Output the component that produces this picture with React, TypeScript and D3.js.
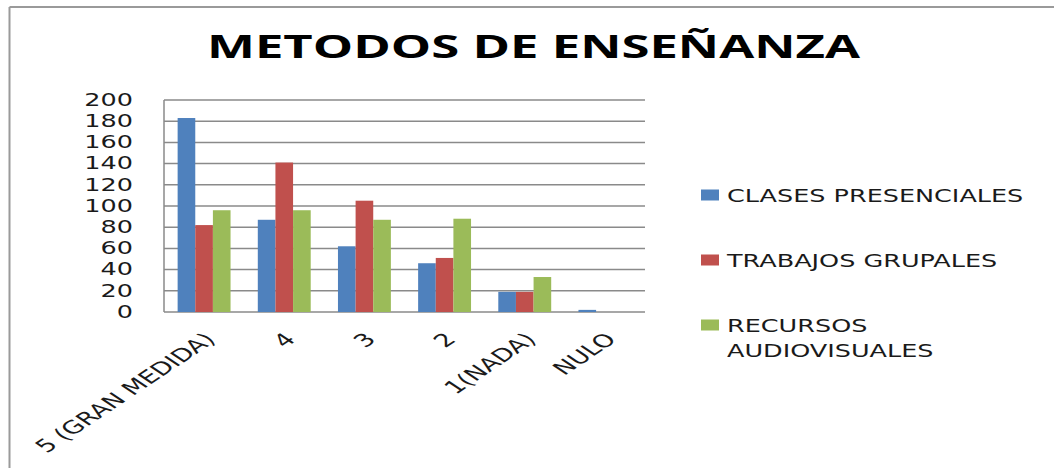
import React from "react";
import * as d3 from "d3";

const categories = ["5 (GRAN MEDIDA)", "4", "3", "2", "1(NADA)", "NULO"];
const seriesNames = ["CLASES PRESENCIALES", "TRABAJOS GRUPALES", "RECURSOS AUDIOVISUALES"];
const clasesPresenciales = [183, 87, 62, 46, 19, 2];
const trabajosGrupales = [82, 141, 105, 51, 19, 0];
const recursosAudiovisuales = [96, 96, 87, 88, 33, 0];
const yTicks = [0, 20, 40, 60, 80, 100, 120, 140, 160, 180, 200];
const colors = ["#4F81BD", "#C0504D", "#9BBB59"];
const legendLines = [["CLASES PRESENCIALES"], ["TRABAJOS GRUPALES"], ["RECURSOS", "AUDIOVISUALES"]];

const W = 1054;
const H = 468;
const plot = { left: 164, right: 645, top: 100, bottom: 312 };
const S = 1.5; // horizontal text stretch
const FONT = "'DejaVu Sans', Verdana, sans-serif";
const TXT = "#1a1a1a";

export default function App() {
  const series = [clasesPresenciales, trabajosGrupales, recursosAudiovisuales];
  const x0 = d3
    .scaleBand<string>()
    .domain(categories)
    .range([plot.left, plot.right])
    .paddingInner(0.34)
    .paddingOuter(0.17);
  const x1 = d3
    .scaleBand<number>()
    .domain(d3.range(series.length))
    .range([0, x0.bandwidth()]);
  const y = d3.scaleLinear().domain([0, 200]).range([plot.bottom, plot.top]);

  return (
    <svg
      width={W}
      height={H}
      style={{ position: "absolute", left: 0, top: 0, background: "#fff" }}
    >
      <rect x={0} y={0} width={W} height={H} fill="#fff" />
      {/* chart border */}
      <line x1={9.5} y1={7} x2={W + 5} y2={7} stroke="#9a9a9a" strokeWidth={2} />
      <line x1={9.5} y1={7} x2={9.5} y2={H + 5} stroke="#9a9a9a" strokeWidth={2} />

      {/* title */}
      <text
        x={207}
        y={58}
        fontFamily="'Open Sans', Calibri, sans-serif"
        fontWeight="bold"
        fontSize={33}
        textLength={653}
        lengthAdjust="spacingAndGlyphs"
        fill="#000"
      >
        METODOS DE ENSEÑANZA
      </text>

      {/* gridlines */}
      {yTicks.map((t) => (
        <line
          key={"g" + t}
          x1={plot.left}
          x2={plot.right}
          y1={y(t)}
          y2={y(t)}
          stroke="#8a8a8a"
          strokeWidth={1.5}
        />
      ))}
      <line
        x1={plot.left}
        x2={plot.left}
        y1={plot.top}
        y2={plot.bottom}
        stroke="#8a8a8a"
        strokeWidth={1.5}
      />

      {/* y labels */}
      {yTicks.map((t) => (
        <text
          key={"yl" + t}
          transform={`translate(133,${y(t)}) scale(${S},1)`}
          textAnchor="end"
          dominantBaseline="central"
          fontFamily={FONT}
          fontSize={17}
          fill={TXT}
        >
          {t}
        </text>
      ))}

      {/* bars */}
      {categories.map((c, i) => (
        <g key={c}>
          {series.map((s, k) =>
            s[i] > 0 ? (
              <rect
                key={k}
                x={(x0(c) as number) + (x1(k) as number)}
                y={y(s[i])}
                width={x1.bandwidth()}
                height={y(0) - y(s[i])}
                fill={colors[k]}
              />
            ) : null
          )}
        </g>
      ))}

      {/* x labels */}
      {categories.map((c) => {
        const cx = (x0(c) as number) + x0.bandwidth() / 2;
        return (
          <text
            key={"xl" + c}
            transform={`translate(${cx + 6},${plot.bottom + 24}) scale(${S},1) rotate(-45)`}
            textAnchor="end"
            dy="0.35em"
            fontFamily={FONT}
            fontSize={18}
            fill={TXT}
          >
            {c}
          </text>
        );
      })}

      {/* legend */}
      {seriesNames.map((n, k) => {
        const cy = 195 + k * 65;
        return (
          <g key={n}>
            <rect x={701} y={cy - 5.5} width={18} height={11} fill={colors[k]} />
            {legendLines[k].map((ln, j) => (
              <text
                key={j}
                transform={`translate(727,${cy + 7 + j * 25}) scale(${S},1)`}
                fontFamily={FONT}
                fontSize={17}
                fill={TXT}
              >
                {ln}
              </text>
            ))}
          </g>
        );
      })}
    </svg>
  );
}
